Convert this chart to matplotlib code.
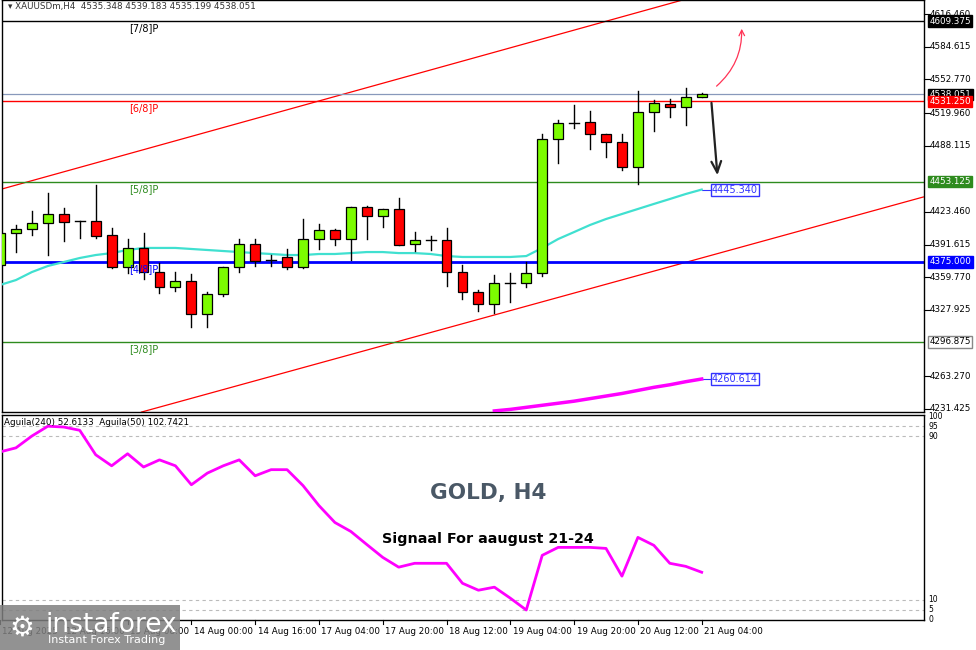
import matplotlib
matplotlib.use("Agg")
import matplotlib.pyplot as plt
from matplotlib.patches import Rectangle
import numpy as np

opens = [4371.8,4403.0,4406.9,4412.7,4421.5,4414.7,4414.7,4401.0,4369.8,4388.4,4364.9,4350.3,4356.2,4324.0,4343.5,4369.8,4392.2,4376.6,4379.6,4369.8,4397.1,4405.9,4397.1,4428.3,4419.6,4426.4,4392.2,4396.2,4396.2,4364.9,4345.5,4333.8,4354.2,4354.2,4364.0,4494.6,4510.7,4511.2,4499.5,4491.7,4467.3,4521.0,4528.8,4525.8,4535.348]
highs = [4405.9,4410.8,4424.4,4441.9,4427.4,4414.7,4449.8,4407.9,4397.1,4403.0,4373.7,4364.9,4363.0,4345.5,4369.8,4397.1,4397.1,4381.5,4387.4,4416.6,4411.8,4406.9,4428.3,4429.3,4426.4,4437.1,4404.0,4400.0,4407.9,4371.8,4347.4,4362.0,4364.0,4374.7,4499.5,4513.2,4527.8,4521.9,4499.5,4499.5,4541.4,4532.7,4533.6,4544.4,4539.183]
lows = [4368.8,4384.4,4401.0,4381.5,4395.2,4398.1,4398.1,4368.9,4364.0,4358.1,4344.5,4346.4,4311.3,4311.3,4341.6,4364.9,4370.8,4370.8,4367.9,4368.9,4387.4,4391.3,4376.6,4397.1,4408.8,4391.3,4385.4,4386.4,4351.3,4338.6,4326.9,4325.0,4335.7,4350.3,4361.0,4471.2,4505.3,4484.9,4477.1,4464.4,4450.8,4502.4,4516.1,4508.3,4535.199]
closes = [4403.0,4406.9,4412.7,4421.5,4413.7,4414.2,4400.0,4369.8,4388.4,4364.9,4350.3,4356.2,4324.0,4343.5,4369.8,4392.2,4375.7,4376.1,4369.8,4397.1,4405.9,4397.1,4428.3,4419.6,4426.4,4391.3,4396.2,4395.7,4364.9,4345.5,4333.8,4354.2,4353.7,4364.0,4494.6,4510.2,4511.2,4499.5,4491.7,4467.3,4521.0,4529.7,4525.8,4535.6,4538.051]
ma50 = [4352.3,4357.1,4364.9,4370.8,4374.7,4378.6,4381.5,4383.4,4386.4,4388.4,4388.4,4388.4,4387.4,4386.4,4385.4,4384.4,4383.4,4382.5,4381.5,4381.5,4382.5,4382.5,4383.4,4384.4,4384.4,4383.4,4383.4,4382.5,4380.5,4379.6,4379.6,4379.6,4379.6,4380.5,4388.4,4397.1,4403.9,4410.8,4416.6,4421.5,4426.4,4431.3,4436.1,4441.0,4445.34]
ma240_start = 31
ma240 = [4229.5,4231.0,4233.0,4235.0,4237.0,4239.0,4241.5,4244.0,4246.5,4249.5,4252.5,4255.0,4258.0,4260.614]
aguila = [82.4,84.4,90.2,95.0,94.6,93.0,81.0,75.6,81.5,75.0,78.5,75.6,66.3,72.0,75.6,78.5,70.7,73.7,73.7,65.9,56.1,47.8,43.4,37.0,30.7,25.9,27.8,27.8,27.8,18.0,14.6,16.1,10.7,4.9,31.7,35.6,35.6,35.6,35.1,21.5,40.5,36.6,27.8,26.3,23.4]
price_ticks = [4616.460,4584.615,4552.770,4519.960,4488.115,4423.460,4391.615,4359.770,4327.925,4263.270,4231.425]
time_idx = [0,4,8,12,16,20,24,28,32,36,40,44]
time_labels = ["12 Aug 2025","12 Aug 16:00","13 Aug 08:00","14 Aug 00:00","14 Aug 16:00","17 Aug 04:00",
               "17 Aug 20:00","18 Aug 12:00","19 Aug 04:00","19 Aug 20:00","20 Aug 12:00","21 Aug 04:00"]
levels = [4609.375,4531.250,4453.125,4375.000,4296.875]
level_names = ["[7/8]P","[6/8]P","[5/8]P","[4/8]P","[3/8]P"]
level_colors = ["#000000","#ff0000","#2e8b1e","#0000ff","#2e8b1e"]
current = 4538.051
chan_upper = [(0.125,4445.9),(42.8,4630.15)]
chan_lower = [(8.875,4228.4),(57.9,4438.1)]

W, H = 976, 650
fig = plt.figure(figsize=(9.76,6.5), dpi=100)
fs = 6.3
XL = (0.125, 57.94)
ax = fig.add_axes([2/W, 1-412/H, 922/W, 412/H])
ax2 = fig.add_axes([2/W, 1-620/H, 922/W, 205/H])
ax.set_xlim(*XL); ax.set_ylim(4228.45, 4630.15)
ax2.set_xlim(*XL); ax2.set_ylim(0, 100.5)

n = len(opens)
x = np.arange(n)
for i in range(n):
    o,h,l,c = opens[i],highs[i],lows[i],closes[i]
    ax.plot([i,i],[l,h],color="black",lw=1,zorder=4)
    col = "#7cfc00" if c >= o else "#ff0000"
    lo, hi = min(o,c), max(o,c)
    if hi-lo < 1.0:
        ax.plot([i-0.31,i+0.31],[o,o],color="black",lw=1,zorder=5)
    else:
        ax.add_patch(Rectangle((i-0.31,lo),0.62,hi-lo,facecolor=col,edgecolor="black",lw=0.9,zorder=5))

ax.plot(x, ma50, color="#40e0d0", lw=1.6, zorder=3)
ax.plot(np.arange(ma240_start, ma240_start+len(ma240)), ma240, color="#ff00ff", lw=2.5, zorder=3)
for (a,b) in (chan_upper, chan_lower):
    ax.plot([a[0],b[0]],[a[1],b[1]],color="#ff0000",lw=0.9,zorder=2)

for lv,nm,cl in zip(levels,level_names,level_colors):
    lw = 2 if cl=="#0000ff" else 1
    ax.axhline(lv,color=cl,lw=lw,zorder=2)
    ax.text(8.1, lv-2, nm, color=cl, fontsize=7, va="top", ha="left", zorder=6)
ax.axhline(current,color="#8899bb",lw=0.9,zorder=2)

for t in price_ticks:
    ax.annotate(f"{t:.3f}", xy=(1,t), xycoords=("axes fraction","data"), xytext=(4,0),
                textcoords="offset points", fontsize=fs, va="center", ha="left", annotation_clip=False)
    ax.plot([1,1.006],[t,t],transform=ax.get_yaxis_transform(),color="black",lw=0.8,clip_on=False)
boxes = [(4609.375,"#000000","white"),(current,"#000000","white"),(4531.250,"#ff0000","white"),
         (4453.125,"#2e8b1e","white"),(4375.000,"#0000ff","white"),(4296.875,"white","black")]
for v,bg,fg in boxes:
    ax.annotate(f"{v:.3f}", xy=(1,v), xycoords=("axes fraction","data"), xytext=(4,0),
                textcoords="offset points", fontsize=fs, va="center", ha="left", color=fg,
                bbox=dict(boxstyle="square,pad=0.15", fc=bg, ec=bg if bg!="white" else "#888888"),
                annotation_clip=False, zorder=10)

ax.plot([n-1, n-0.4],[ma50[-1]]*2,color="#3333ff",lw=0.8)
ax.text(n-0.35, ma50[-1], f"{ma50[-1]:.3f}", color="#3333ff", fontsize=7, va="center",
        bbox=dict(boxstyle="square,pad=0.1", fc="white", ec="#3333ff"))
ax.plot([n-1, n-0.4],[ma240[-1]]*2,color="#3333ff",lw=0.8)
ax.text(n-0.35, ma240[-1], f"{ma240[-1]:.3f}", color="#3333ff", fontsize=7, va="center",
        bbox=dict(boxstyle="square,pad=0.1", fc="white", ec="#3333ff"))

ax.annotate("", xy=(45.0,4456.6), xytext=(44.6,4532.6),
            arrowprops=dict(arrowstyle="->,head_width=0.35,head_length=0.8", color="#222222", lw=1.6))
ax.annotate("", xy=(46.5,4604.8), xytext=(44.8,4544.4),
            arrowprops=dict(arrowstyle="->", color="#ff3355", lw=0.9, connectionstyle="arc3,rad=0.25"))

ax.text(0.006, 0.995, "\u25be XAUUSDm,H4  4535.348 4539.183 4535.199 4538.051", transform=ax.transAxes,
        fontsize=fs, va="top", ha="left", color="#333333")

for a in (ax, ax2):
    a.set_xticks([]); a.set_yticks([])
    for s in a.spines.values():
        s.set_color("black"); s.set_linewidth(1)

ax2.plot(x, aguila, color="#ff00ff", lw=2, zorder=3)
for v in [95,90,10,5]:
    ax2.axhline(v, color="#bbbbbb", lw=0.8, ls=(0,(3,3)))
for v,lab in [(100,"100"),(95,"95"),(90,"90"),(10,"10"),(5,"5"),(0,"0")]:
    ax2.annotate(lab, xy=(1,v), xycoords=("axes fraction","data"), xytext=(3,0),
                 textcoords="offset points", fontsize=5.5, va="center", ha="left", annotation_clip=False)
ax2.text(0.002, 0.985, "Aguila(240) 52.6133  Aguila(50) 102.7421", transform=ax2.transAxes,
         fontsize=fs, va="top", ha="left")

for i,lab in zip(time_idx,time_labels):
    ax2.plot([i,i],[0,-0.02],transform=ax2.get_xaxis_transform(),color="black",lw=0.8,clip_on=False)
    ax2.text(i+0.15, -0.035, lab, transform=ax2.get_xaxis_transform(), fontsize=fs, va="top", ha="left")

fig.text(488/W, 1-493/H, "GOLD, H4", fontsize=15.5, fontweight="bold", color="#4a5866", ha="center", va="center")
fig.text(488/W, 1-539/H, "Signaal For aaugust 21-24", fontsize=10.3, fontweight="bold", color="black",
         ha="center", va="center")

fig.patches.append(Rectangle((0,0),180/W,45/H,transform=fig.transFigure,facecolor="#7f7f7f",alpha=0.85,zorder=20))
fig.text(45/W, 1-625/H, "instaforex", fontsize=19, color="white", ha="left", va="center", zorder=21)
fig.text(48/W, 1-640/H, "Instant Forex Trading", fontsize=8, color="white", ha="left", va="center", zorder=21)
fig.text(22/W, 1-628/H, "\u2699", fontsize=20, color="white", ha="center", va="center", zorder=21)

fig.savefig("out.png", dpi=100, facecolor="white")
